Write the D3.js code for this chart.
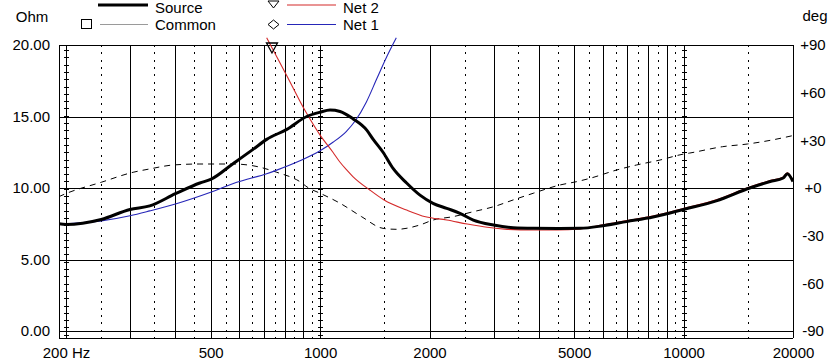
<!DOCTYPE html>
<html>
<head>
<meta charset="utf-8">
<script src="https://cdn.jsdelivr.net/npm/d3@7"></script>
<style>
  body { margin: 0; background: #fff; }
  svg { display: block; font-family: "Liberation Sans", Arial, sans-serif; font-size: 15px; }
  .axis .domain { display: none; }
  .axis line { display: none; }
</style>
</head>
<body>
<div id="chart"></div>
<script>
// impedance of the source (black), the two networks and the phase (dashed)
const sourceFreq = [191, 200, 250, 300, 340, 400, 467, 500, 576, 654, 713, 810, 919, 1000, 1065, 1135, 1231, 1344, 1400, 1490, 1590, 1730, 1883, 2045, 2230, 2426, 2640, 3000, 3400, 3860, 4500, 5190, 6000, 6970, 8240, 10100, 12300, 15200, 17300, 18800, 19300, 20000];
const sourceOhm = [7.5, 7.45, 7.8, 8.5, 8.75, 9.6, 10.35, 10.6, 11.7, 12.7, 13.4, 14.1, 15.0, 15.3, 15.45, 15.35, 14.85, 14.05, 13.4, 12.5, 11.35, 10.35, 9.5, 8.93, 8.58, 8.23, 7.76, 7.41, 7.22, 7.18, 7.17, 7.18, 7.36, 7.65, 7.97, 8.53, 9.1, 10.0, 10.45, 10.7, 11.0, 10.45];

const net2Freq = [713, 810, 905, 1000, 1085, 1135, 1180, 1231, 1370, 1500, 1730, 1950, 2230, 2540, 2880, 3270, 3860, 4480, 5190, 6000, 6970, 8240, 10100, 12300, 15200, 17300, 18800, 19300, 20000];
const net2Ohm = [20.5, 17.85, 15.5, 13.7, 12.5, 11.8, 11.3, 10.8, 9.86, 9.16, 8.46, 7.99, 7.76, 7.48, 7.25, 7.11, 7.06, 7.06, 7.14, 7.42, 7.72, 8.04, 8.6, 9.17, 10.07, 10.52, 10.77, 11.07, 10.5];

const net1Freq = [200, 250, 300, 340, 400, 500, 590, 713, 760, 880, 1000, 1085, 1180, 1250, 1340, 1430, 1530, 1620];
const net1Ohm = [7.5, 7.7, 8.06, 8.4, 8.88, 9.7, 10.4, 11.0, 11.25, 11.9, 12.6, 13.2, 13.95, 14.7, 16.0, 17.6, 19.25, 20.5];

const phaseFreq = [191, 200, 250, 306, 340, 395, 467, 576, 654, 760, 880, 930, 1000, 1135, 1300, 1490, 1620, 1880, 2050, 2326, 2640, 3000, 3400, 3860, 4570, 5080, 5530, 6540, 7430, 8610, 9970, 10400, 12800, 15000, 17500, 20000];
const phaseDeg = [-5.5, -3.5, 3.6, 9.9, 12, 14.5, 15.1, 15.1, 14, 9.9, 4.0, 0, -3.3, -9.6, -18, -25.4, -26, -23.3, -20.1, -18, -14.9, -11.8, -7.5, -3.3, 1.9, 4.0, 6.1, 11.3, 14.5, 17.6, 21.3, 22, 26, 27.7, 30.2, 33];

const freqTicks = [200, 500, 1000, 2000, 5000, 10000, 20000];
const freqLabels = ["200 Hz", "500", "1000", "2000", "5000", "10000", "20000"];
const ohmTicks = [0, 5, 10, 15, 20];
const degTicks = [90, 60, 30, 0, -30, -60, -90];
const majorGrid = [200, 300, 400, 500, 600, 700, 800, 900, 1000, 2000, 3000, 4000, 5000, 6000, 7000, 8000, 9000, 10000, 20000];
const minorGrid = [250, 350, 450, 550, 650, 750, 850, 950, 1500, 2500, 3500, 4500, 5500, 6500, 7500, 8500, 9500, 15000];
const tickedGrid = [200, 1000, 10000];

const W = 834, H = 364;
const frame = { left: 59, right: 793, top: 45, bottom: 338 };

const x = d3.scaleLog().domain([200, 20000]).range([66, 793]);
const y = d3.scaleLinear().domain([0, 20]).range([331, 45]);
const yDeg = d3.scaleLinear().domain([-90, 90]).range([331, 45]);

const svg = d3.select("#chart").append("svg")
    .attr("width", W)
    .attr("height", H);

svg.append("defs").append("clipPath").attr("id", "plot")
  .append("rect")
    .attr("x", frame.left).attr("y", 37)
    .attr("width", frame.right - frame.left).attr("height", frame.bottom - 37);

// grid
const grid = svg.append("g").attr("stroke", "#000").attr("shape-rendering", "crispEdges");

grid.selectAll(".minor").data(minorGrid).enter().append("line")
    .attr("x1", (d) => Math.round(x(d)) + 0.5).attr("x2", (d) => Math.round(x(d)) + 0.5)
    .attr("y1", frame.top).attr("y2", frame.bottom)
    .attr("stroke-dasharray", "2,5.3");

grid.selectAll(".major").data(majorGrid).enter().append("line")
    .attr("x1", (d) => Math.round(x(d)) + 0.5).attr("x2", (d) => Math.round(x(d)) + 0.5)
    .attr("y1", frame.top).attr("y2", frame.bottom);

grid.selectAll(".ticked").data(tickedGrid).enter().append("path")
    .attr("fill", "none")
    .attr("d", (d) => d3.range(frame.top + 5, frame.bottom - 2, 7.3)
      .map((yy) => `M${Math.round(x(d)) - 2},${Math.round(yy) + 0.5}h5`).join(""));

grid.selectAll(".hgrid").data(ohmTicks).enter().append("line")
    .attr("x1", frame.left).attr("x2", frame.right)
    .attr("y1", (d) => Math.round(y(d)) + 0.5).attr("y2", (d) => Math.round(y(d)) + 0.5);

grid.append("line")
    .attr("x1", frame.left).attr("x2", frame.right)
    .attr("y1", frame.bottom + 0.5).attr("y2", frame.bottom + 0.5);
grid.append("line")
    .attr("x1", frame.left + 0.5).attr("x2", frame.left + 0.5)
    .attr("y1", frame.top).attr("y2", frame.bottom);

// axes
svg.append("g").attr("class", "axis")
    .attr("transform", `translate(${frame.left},0)`)
    .call(d3.axisLeft(y).tickValues(ohmTicks).tickSize(0).tickPadding(9).tickFormat(d3.format(".2f")));

svg.append("g").attr("class", "axis")
    .attr("transform", `translate(0,${frame.bottom})`)
    .call(d3.axisBottom(x).tickValues(freqTicks).tickSize(0).tickPadding(9)
      .tickFormat((d, i) => freqLabels[i]));

const degAxis = svg.append("g").attr("class", "axis")
    .attr("transform", `translate(${frame.right},0)`)
    .call(d3.axisRight(yDeg).tickValues(degTicks).tickSize(0)
      .tickFormat((d) => d > 0 ? `+${d}` : d === 0 ? "+0" : `${d}`));
degAxis.selectAll("text").attr("text-anchor", "middle").attr("x", 20);

svg.selectAll(".axis text").attr("fill", "#000").style("font-size", "15px")
    .style("font-family", `"Liberation Sans", Arial, sans-serif`);

svg.append("text").attr("x", 32).attr("y", 22).attr("text-anchor", "middle").text("Ohm");
svg.append("text").attr("x", 815).attr("y", 21).attr("text-anchor", "middle").text("deg");

// curves
const curves = svg.append("g").attr("clip-path", "url(#plot)").attr("fill", "none");
const ohmLine = d3.line().x((d) => x(d[0])).y((d) => y(d[1])).curve(d3.curveMonotoneX);
const degLine = d3.line().x((d) => x(d[0])).y((d) => yDeg(d[1])).curve(d3.curveMonotoneX);

curves.append("path")
    .datum(d3.zip(phaseFreq, phaseDeg))
    .attr("d", degLine)
    .attr("stroke", "#000").attr("stroke-width", 1).attr("stroke-dasharray", "6,5");

curves.append("path")
    .datum(d3.zip(net1Freq, net1Ohm))
    .attr("d", ohmLine)
    .attr("stroke", "#2626b8").attr("stroke-width", 1.1);

const net2Pts = d3.zip(net2Freq, net2Ohm);
curves.append("path")
    .datum(net2Pts)
    .attr("d", ohmLine)
    .attr("stroke", "#d42a2a").attr("stroke-width", 1.1);

curves.append("path")
    .datum(d3.zip(sourceFreq, sourceOhm))
    .attr("d", ohmLine)
    .attr("stroke", "#000").attr("stroke-width", 3).attr("stroke-linejoin", "round");

// Net 2 marker where it enters the plot
const p0 = [x(net2Pts[0][0]), y(net2Pts[0][1])];
const p1 = [x(net2Pts[1][0]), y(net2Pts[1][1])];
const t = (y(20) - p0[1]) / (p1[1] - p0[1]);
const mx = p0[0] + t * (p1[0] - p0[0]) + 1.5;
const my = y(20);
svg.append("path")
    .attr("d", `M${mx - 5.5},${my - 2}L${mx + 5.5},${my - 2}L${mx},${my + 8}Z`)
    .attr("fill", "none").attr("stroke", "#000").attr("stroke-width", 1.3);

// legend
const legend = svg.append("g");
legend.append("line").attr("x1", 98).attr("x2", 148).attr("y1", 5).attr("y2", 5)
    .attr("stroke", "#000").attr("stroke-width", 3);
legend.append("text").attr("x", 155).attr("y", 13).text("Source");
legend.append("rect").attr("x", 81.5).attr("y", 19.5).attr("width", 10).attr("height", 9)
    .attr("fill", "none").attr("stroke", "#000");
legend.append("line").attr("x1", 100).attr("x2", 148).attr("y1", 24.5).attr("y2", 24.5)
    .attr("stroke", "#9a9a9a").attr("stroke-width", 1);
legend.append("text").attr("x", 155).attr("y", 30).text("Common");

legend.append("path").attr("d", "M268,1L279,1L273.5,8Z")
    .attr("fill", "none").attr("stroke", "#000");
legend.append("line").attr("x1", 287).attr("x2", 336).attr("y1", 5).attr("y2", 5)
    .attr("stroke", "#d42a2a").attr("stroke-width", 1.2);
legend.append("text").attr("x", 343).attr("y", 13).text("Net 2");

legend.append("path").attr("d", "M273.5,20L279,24.5L273.5,29L268,24.5Z")
    .attr("fill", "none").attr("stroke", "#000");
legend.append("line").attr("x1", 287).attr("x2", 336).attr("y1", 24.5).attr("y2", 24.5)
    .attr("stroke", "#2626b8").attr("stroke-width", 1.2);
legend.append("text").attr("x", 343).attr("y", 30).text("Net 1");
</script>
</body>
</html>
